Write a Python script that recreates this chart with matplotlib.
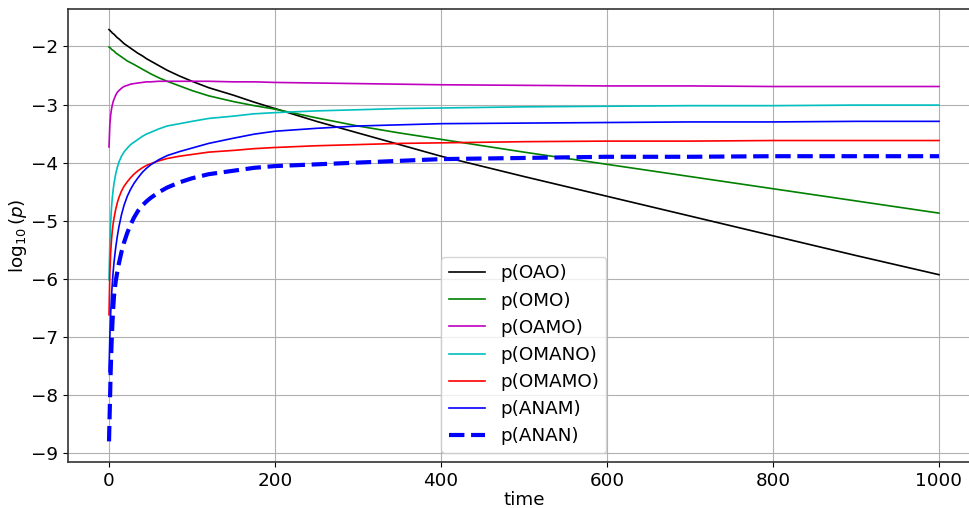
import matplotlib
matplotlib.use("Agg")
import matplotlib.pyplot as plt

plt.rcParams['font.size'] = 13.2

# sample times and log10 of each probability
time = [0, 1, 2, 3, 4, 5, 6, 8, 10, 12, 15, 18, 22, 26, 30, 35, 40, 45, 50, 60, 70, 85,
        100, 120, 150, 175, 200, 250, 300, 350, 400, 500, 600, 700, 800, 900, 1000]

p_OAO = [-1.71, -1.72, -1.74, -1.75, -1.77, -1.78, -1.79, -1.82, -1.85, -1.87, -1.91, -1.95,
         -1.99, -2.03, -2.07, -2.12, -2.16, -2.21, -2.25, -2.33, -2.41, -2.51, -2.60, -2.71,
         -2.84, -2.96, -3.07, -3.29, -3.49, -3.69, -3.89, -4.24, -4.58, -4.92, -5.26, -5.60, -5.93]
p_OMO = [-2.01, -2.02, -2.03, -2.05, -2.06, -2.07, -2.08, -2.11, -2.13, -2.15, -2.18, -2.21,
         -2.25, -2.28, -2.31, -2.35, -2.39, -2.43, -2.47, -2.54, -2.60, -2.68, -2.76, -2.85,
         -2.95, -3.02, -3.08, -3.23, -3.37, -3.49, -3.60, -3.82, -4.03, -4.24, -4.45, -4.66, -4.87]
p_OAMO = [-3.73, -3.35, -3.18, -3.08, -3.01, -2.95, -2.91, -2.84, -2.79, -2.76, -2.72, -2.69,
          -2.67, -2.65, -2.64, -2.63, -2.62, -2.61, -2.61, -2.60, -2.60, -2.60, -2.60, -2.60,
          -2.61, -2.61, -2.62, -2.63, -2.64, -2.65, -2.66, -2.67, -2.68, -2.68, -2.69, -2.69, -2.69]
p_OMANO = [-6.02, -5.40, -5.02, -4.78, -4.60, -4.47, -4.36, -4.20, -4.08, -3.99, -3.89, -3.82,
           -3.75, -3.69, -3.65, -3.60, -3.55, -3.51, -3.48, -3.42, -3.37, -3.33, -3.29, -3.24,
           -3.20, -3.16, -3.14, -3.11, -3.09, -3.07, -3.06, -3.04, -3.03, -3.02, -3.02, -3.01, -3.01]
p_OMAMO = [-6.62, -5.90, -5.55, -5.33, -5.17, -5.05, -4.96, -4.81, -4.69, -4.60, -4.49, -4.41,
           -4.33, -4.26, -4.20, -4.14, -4.09, -4.05, -4.02, -3.97, -3.93, -3.89, -3.86, -3.82,
           -3.79, -3.76, -3.74, -3.71, -3.69, -3.67, -3.66, -3.64, -3.63, -3.63, -3.62, -3.62, -3.62]
p_ANAM = [-7.60, -7.00, -6.60, -6.30, -6.07, -5.88, -5.72, -5.47, -5.27, -5.10, -4.90, -4.74,
          -4.58, -4.46, -4.36, -4.26, -4.17, -4.10, -4.04, -3.95, -3.88, -3.81, -3.75, -3.67,
          -3.58, -3.51, -3.46, -3.41, -3.37, -3.35, -3.33, -3.32, -3.31, -3.30, -3.30, -3.29, -3.29]
p_ANAN = [-8.80, -8.20, -7.60, -7.15, -6.80, -6.52, -6.30, -6.05, -5.88, -5.73, -5.54, -5.38,
          -5.21, -5.07, -4.95, -4.83, -4.74, -4.67, -4.61, -4.51, -4.43, -4.34, -4.27, -4.20,
          -4.14, -4.09, -4.06, -4.03, -4.00, -3.97, -3.94, -3.92, -3.90, -3.90, -3.89, -3.89, -3.89]

fig = plt.figure(figsize=(9.7, 5.08), dpi=100)
ax = fig.add_axes([0.0696, 0.0906, 0.9412, 0.8917])

ax.plot(time, p_OAO, 'k', lw=1.2, label='p(OAO)')
ax.plot(time, p_OMO, 'g', lw=1.2, label='p(OMO)')
ax.plot(time, p_OAMO, 'm', lw=1.2, label='p(OAMO)')
ax.plot(time, p_OMANO, 'c', lw=1.2, label='p(OMANO)')
ax.plot(time, p_OMAMO, 'r', lw=1.2, label='p(OMAMO)')
ax.plot(time, p_ANAM, 'b', lw=1.2, label='p(ANAM)')
ax.plot(time, p_ANAN, 'b--', lw=3, label='p(ANAN)')

ax.set_xlim(-50, 1050)
ax.set_xlabel('time', labelpad=1)
ax.set_ylabel(r'$\log_{10}(p)$', labelpad=1)
ax.grid(True)
for s in ax.spines.values():
    s.set_color('#333333')
    s.set_linewidth(1.2)
ax.legend(loc='lower center')

plt.savefig("out.png")
